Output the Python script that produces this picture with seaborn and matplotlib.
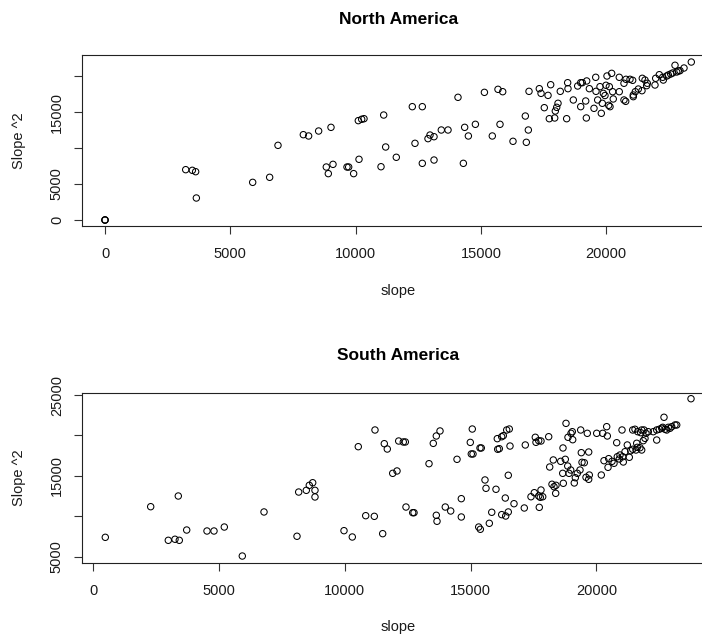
import matplotlib
matplotlib.use("Agg")
import matplotlib.pyplot as plt
import seaborn as sns
import pandas as pd

# North America: slope vs squared-slope measurements
na_slope = [0, 0, 0, 3220, 3485, 3617, 3645, 5893, 6570, 6903,
            7914, 8125, 8525, 9018, 8831, 8911, 9098, 9657, 9723, 9922,
            10108, 10136, 10243, 10335, 11121, 11200, 11014, 11624,
            12263, 12662, 12370, 12889, 12969, 13129, 12662, 13129,
            13420, 13688, 14086, 14300, 14352, 14500, 14780,
            15140, 15682, 15870, 15455, 15762,
            16281, 16773, 16893, 16813, 16920,
            17331, 17400, 17679, 17785, 17530, 17730, 17945,
            17970, 18025, 18077, 18168, 18475, 18462, 18422, 18688,
            18862, 18983, 19046, 19222, 18983, 19182, 19208, 19328, 19582,
            19593, 19753, 19886, 19952, 19992, 20125, 20032, 20218,
            19513, 19660, 19845, 19805, 20100, 20152,
            20257, 20282, 20522, 20522, 20710, 20790, 20950, 21056,
            20710, 20778, 21082, 21162, 21282, 21082,
            21441, 21548, 21640, 21615, 21428,
            21975, 22119, 22255, 22415, 22574, 22746, 22813, 22945, 23105, 23396,
            21947, 22279, 22479, 22654, 22877]
na_slope2 = [0, 0, 0, 6990, 6900, 6710, 3055, 5230, 5930, 10370,
             11850, 11670, 12360, 12870, 7360, 6440, 7730, 7360, 7360, 6440,
             13800, 8430, 13990, 14070, 14580, 10140, 7400, 8710,
             15740, 15740, 10650, 11300, 11800, 11570, 7870, 8330,
             12500, 12500, 17040, 7870, 12870, 11670, 13290,
             17730, 18150, 17820, 11670, 13290,
             10930, 14440, 12500, 10790, 17870,
             18240, 17590, 17310, 18790, 15600, 14070, 14170,
             15140, 15650, 16210, 17870, 18240, 19070, 14070, 16670,
             18610, 19070, 19070, 19310, 15740, 16530, 14170, 18240, 19820,
             17870, 18520, 17590, 17290, 18710, 18520, 20000, 20370,
             15510, 16670, 16210, 14820, 15930, 15740,
             17820, 16810, 17820, 19820, 18990, 19540, 19540, 19400,
             16670, 16480, 17360, 17820, 18190, 17130,
             19680, 19440, 18990, 18660, 17960,
             19680, 20180, 19820, 20000, 20280, 21490, 20560, 20740, 21110, 21940,
             18750, 19440, 20140, 20420, 20690]

# South America: slope vs squared-slope measurements
sa_slope = [477, 2281, 2981, 3247, 3418, 3378, 3712, 4519, 4797, 5207,
            5922, 6785, 8096, 8163, 8466, 8585, 8720, 8811, 8811,
            9964, 10294, 10532, 11196, 10827, 11169, 11502, 11566, 11685,
            11900, 12071, 12138, 12321, 12401, 12428, 12695, 12747,
            13343, 13513, 13633, 13780, 13633, 13661, 13990, 14205, 14456,
            14627, 14627, 14984, 15024, 15091, 15370, 15421, 15063,
            15568, 15608, 16005, 15318, 15383, 15740, 15836,
            16057, 16232, 16296, 16431, 16534, 16562, 16073, 16137,
            16232, 16391, 16494, 16375, 16494, 16721, 17130, 17726,
            17170, 17568, 17595, 17703, 17794, 18100,
            17396, 17528, 17703, 17794, 17766, 17862,
            18140, 18283, 18231, 18311, 18390, 18378,
            18577, 18760, 18657, 18681, 18856, 18908, 18975,
            18668, 18788, 18867, 18987, 19054, 19038,
            19158, 19237, 19344, 19117, 19424, 19515, 19583, 19714, 19690, 20191,
            19372, 19396, 19634, 19690,
            20008, 20247, 20405, 20430, 20298, 20485,
            20458, 20617, 20696, 20827, 20803, 20934, 21014,
            20906, 21041, 21065, 21133, 21224, 21304, 21359, 21439, 21570, 21598,
            21622, 21729, 21796, 21860, 21927, 21757, 21439, 21530, 21638, 21796,
            21888, 21967, 22059,
            22393, 22393, 22496, 22592, 22723, 22854, 22989, 23120, 22683, 23188,
            23756, 22258, 22631, 22790, 22921]
sa_slope2 = [7430, 11210, 7060, 7190, 7060, 12530, 8330, 8210, 8210, 8700,
             5120, 10560, 7560, 13020, 13230, 13850, 14170, 13230, 12410,
             8250, 7470, 18620, 20680, 10100, 10020, 7880, 18990, 18330,
             15330, 15620, 19320, 19200, 19200, 11170, 10470, 10470,
             16520, 19030, 19940, 20560, 10150, 9410, 11170, 10680, 17060,
             12200, 9940, 19150, 17720, 17720, 18460, 18460, 20800,
             14510, 13480, 13360, 8700, 8420, 9160, 10520,
             19610, 19850, 19980, 20680, 20800, 18700, 18300, 18370,
             10230, 10060, 10560, 12280, 15090, 11580, 11050, 11130,
             18830, 19780, 19160, 19360, 19320, 19850,
             12440, 12940, 12530, 13270, 12370, 12440,
             16110, 16980, 13980, 13680, 13850, 12860,
             16810, 17060, 15330, 14100, 16230, 15330, 15740,
             18460, 21500, 19780, 20270, 19480, 20470,
             14790, 15330, 15740, 14140, 16690, 16640, 14840, 15120, 14590, 15120,
             20680, 17880, 20270, 17960,
             20270, 20270, 21090, 19940, 16890, 17140,
             16070, 16810, 16570, 17380, 19110, 17590, 20680,
             17100, 17380, 16730, 18000, 18830, 17310, 18120, 18300, 18210, 19040,
             18540, 18490, 18210, 19360, 19650, 20350, 20680, 20770, 20470, 20680,
             20680, 20270, 20470,
             19440, 20680, 20770, 20890, 20770, 21010, 21090, 21300, 22250, 21300,
             24540, 20470, 21010, 20680, 20890]

x_ticks = [0, 5000, 10000, 15000, 20000]
na_yticks = [0, 5000, 10000, 15000, 20000]
na_yticklabels = ["0", "5000", "", "15000", ""]
sa_yticks = [5000, 10000, 15000, 20000, 25000]
sa_yticklabels = ["5000", "", "15000", "", "25000"]

sns.set_theme(style="white")
plt.rcParams["font.family"] = ["Liberation Sans", "DejaVu Sans"]

W, H = 702, 637
fig = plt.figure(figsize=(W / 100, H / 100), dpi=100)


def px_box(left, top, right, bottom):
    return [left / W, 1 - bottom / H, (right - left) / W, (bottom - top) / H]


panels = [
    dict(title="North America", x=na_slope, y=na_slope2,
         box=px_box(82, 55, 715, 226), xlim=(-918, 24342), ylim=(-833, 22917),
         yticks=na_yticks, ylabels=na_yticklabels, title_y=20),
    dict(title="South America", x=sa_slope, y=sa_slope2,
         box=px_box(82, 392.7, 715, 562.7), xlim=(-449, 24710), ylim=(4296, 25284),
         yticks=sa_yticks, ylabels=sa_yticklabels, title_y=356),
]

ink = "#1a1a1a"
for p in panels:
    ax = fig.add_axes(p["box"])
    df = pd.DataFrame({"slope": p["x"], "slope2": p["y"]})
    sns.scatterplot(data=df, x="slope", y="slope2", ax=ax, marker="o",
                    s=21, facecolor="none", edgecolor="black", linewidth=0.75)
    ax.set_xlim(*p["xlim"])
    ax.set_ylim(*p["ylim"])
    ax.set_xticks(x_ticks)
    ax.set_xticklabels([str(t) for t in x_ticks])
    ax.set_yticks(p["yticks"])
    ax.set_yticklabels(p["ylabels"], rotation=90, va="center")
    ax.tick_params(axis="both", direction="out", length=6, width=0.8,
                   color="#333333", labelsize=10.5, labelcolor=ink,
                   bottom=True, left=True)
    ax.tick_params(axis="x", pad=9)
    ax.tick_params(axis="y", pad=7)
    for sp in ax.spines.values():
        sp.set_visible(True)
        sp.set_color("#222222")
        sp.set_linewidth(0.8)
    ax.set_xlabel("slope", fontsize=10.5, color=ink)
    ax.set_ylabel("Slope ^2", fontsize=10.5, color=ink)
    bx = p["box"]
    ax.xaxis.set_label_coords(0.5, -0.38)
    ax.xaxis.label.set_va("center")
    ax.yaxis.set_label_coords(-(82 - 19) / (bx[2] * W), 0.5)
    ax.yaxis.label.set_va("center")
    fig.text(398.5 / W, 1 - p["title_y"] / H, p["title"], ha="center",
             va="center", fontsize=12.5, fontweight="bold", color="black")

fig.savefig("out.png", dpi=100)
